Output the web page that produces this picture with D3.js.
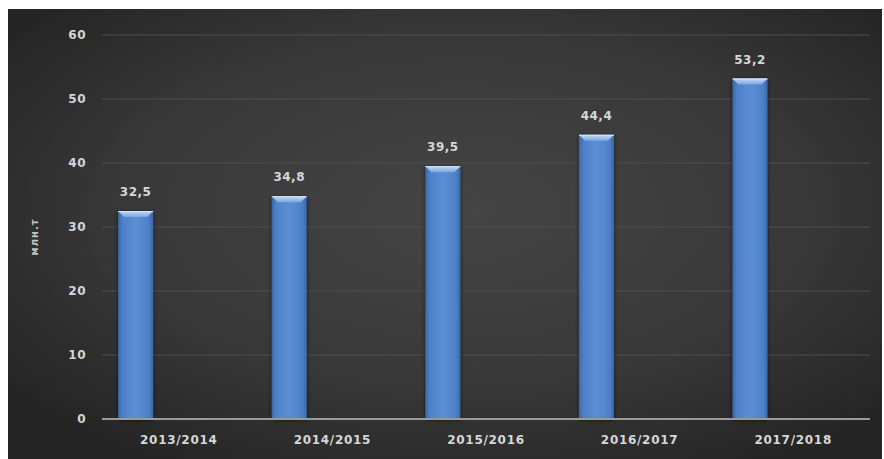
<!DOCTYPE html>
<html>
<head>
<meta charset="utf-8">
<script src="https://cdn.jsdelivr.net/npm/d3@7/dist/d3.min.js"></script>
<style>
  html, body { margin: 0; padding: 0; background: #ffffff; }
  svg { display: block; }
  text { font-family: "DejaVu Sans", Verdana, sans-serif; font-weight: bold; fill: #d6d6d6; }
</style>
</head>
<body>
<svg id="chart" width="884" height="459"></svg>
<script>
// Harvest by season, million tonnes
const seasons = ["2013/2014", "2014/2015", "2015/2016", "2016/2017", "2017/2018"];
const harvest = [32.5, 34.8, 39.5, 44.4, 53.2];
const labels = ["32,5", "34,8", "39,5", "44,4", "53,2"];
const yTicks = [0, 10, 20, 30, 40, 50, 60];
const yTitle = "млн.т";

const svg = d3.select("#chart");
const frame = { x: 8, y: 9, w: 874, h: 450 };
const plot = { left: 102, right: 870, top: 35, bottom: 419 };

const defs = svg.append("defs");
const bg = defs.append("radialGradient").attr("id", "bg")
  .attr("cx", "52%").attr("cy", "45%").attr("r", "65%");
bg.append("stop").attr("offset", "0%").attr("stop-color", "#454545");
bg.append("stop").attr("offset", "60%").attr("stop-color", "#383838");
bg.append("stop").attr("offset", "100%").attr("stop-color", "#252525");

const barGrad = defs.append("linearGradient").attr("id", "barFill")
  .attr("x1", "0").attr("x2", "1").attr("y1", "0").attr("y2", "0");
barGrad.append("stop").attr("offset", "0%").attr("stop-color", "#3a66a6");
barGrad.append("stop").attr("offset", "12%").attr("stop-color", "#4c80c8");
barGrad.append("stop").attr("offset", "50%").attr("stop-color", "#5b8fd5");
barGrad.append("stop").attr("offset", "88%").attr("stop-color", "#4c80c8");
barGrad.append("stop").attr("offset", "100%").attr("stop-color", "#3a66a6");

const bevGrad = defs.append("linearGradient").attr("id", "bevFill")
  .attr("x1", "0").attr("x2", "0").attr("y1", "0").attr("y2", "1");
bevGrad.append("stop").attr("offset", "0%").attr("stop-color", "#c4d9f4");
bevGrad.append("stop").attr("offset", "100%").attr("stop-color", "#7aa6e0");

const shadow = defs.append("filter").attr("id", "shadow")
  .attr("x", "-30%").attr("y", "-10%").attr("width", "160%").attr("height", "120%");
shadow.append("feGaussianBlur").attr("in", "SourceAlpha").attr("stdDeviation", 2);
shadow.append("feOffset").attr("dx", 0).attr("dy", 1).attr("result", "b");
shadow.append("feComponentTransfer").append("feFuncA").attr("type", "linear").attr("slope", 0.6);
const merge = shadow.append("feMerge");
merge.append("feMergeNode");
merge.append("feMergeNode").attr("in", "SourceGraphic");

svg.append("rect")
  .attr("x", frame.x).attr("y", frame.y)
  .attr("width", frame.w).attr("height", frame.h)
  .attr("fill", "url(#bg)");

const x = d3.scaleBand().domain(seasons).range([plot.left, plot.right]);
const y = d3.scaleLinear().domain([0, 60]).range([plot.bottom, plot.top]);

// Horizontal gridlines
svg.append("g").selectAll("line").data(yTicks.filter(t => t > 0)).join("line")
  .attr("x1", plot.left).attr("x2", plot.right)
  .attr("y1", d => y(d)).attr("y2", d => y(d))
  .attr("stroke", "#4e4e4e").attr("stroke-width", 1);

// Y axis labels
const yAxis = d3.axisLeft(y).tickValues(yTicks).tickSize(0).tickPadding(16);
const gy = svg.append("g").attr("transform", `translate(${plot.left},0)`).call(yAxis);
gy.select(".domain").remove();
gy.selectAll("text").attr("font-size", 12).attr("fill", "#d6d6d6")
  .style("font-family", "DejaVu Sans, sans-serif").style("font-weight", "bold")
  .style("letter-spacing", "0.5px");

// Axis title
svg.append("text")
  .attr("transform", `translate(38,${(plot.top + plot.bottom) / 2 + 10}) rotate(-90)`)
  .attr("text-anchor", "middle")
  .attr("font-size", 10)
  .style("letter-spacing", "1px")
  .style("fill", "#c4c4c4")
  .text(yTitle);

// Bars
const barOffset = x.bandwidth() * 0.105;
const barW = x.bandwidth() * 0.228;
const bars = svg.append("g").selectAll("g.bar").data(seasons.map((s, i) => ({ s, v: harvest[i], lab: labels[i] })))
  .join("g").attr("class", "bar");

bars.append("rect")
  .attr("x", d => x(d.s) + barOffset)
  .attr("y", d => y(d.v))
  .attr("width", barW)
  .attr("height", d => y(0) - y(d.v))
  .attr("fill", "url(#barFill)")
  .attr("filter", "url(#shadow)");

// bevelled top
const bev = 6;
bars.append("path")
  .attr("d", d => {
    const x0 = x(d.s) + barOffset, x1 = x0 + barW, t = y(d.v);
    return `M${x0},${t}L${x1},${t}L${x1 - bev},${t + bev}L${x0 + bev},${t + bev}Z`;
  })
  .attr("fill", "url(#bevFill)");
bars.append("line")
  .attr("x1", d => x(d.s) + barOffset).attr("x2", d => x(d.s) + barOffset + barW)
  .attr("y1", d => y(d.v) + 0.5).attr("y2", d => y(d.v) + 0.5)
  .attr("stroke", "#d3e3f8").attr("stroke-width", 1);

// Value labels
bars.append("text")
  .attr("x", d => x(d.s) + barOffset + barW / 2)
  .attr("y", d => y(d.v) - 15)
  .attr("text-anchor", "middle")
  .attr("font-size", 12)
  .style("letter-spacing", "0.5px")
  .text(d => d.lab);

// Baseline
svg.append("line")
  .attr("x1", plot.left).attr("x2", plot.right)
  .attr("y1", y(0)).attr("y2", y(0))
  .attr("stroke", "#9a9a9a").attr("stroke-width", 2);

// Category labels
svg.append("g").selectAll("text").data(seasons).join("text")
  .attr("x", d => x(d) + x.bandwidth() / 2)
  .attr("y", 444)
  .attr("text-anchor", "middle")
  .attr("font-size", 12)
  .style("letter-spacing", "0.7px")
  .text(d => d);
</script>
</body>
</html>
